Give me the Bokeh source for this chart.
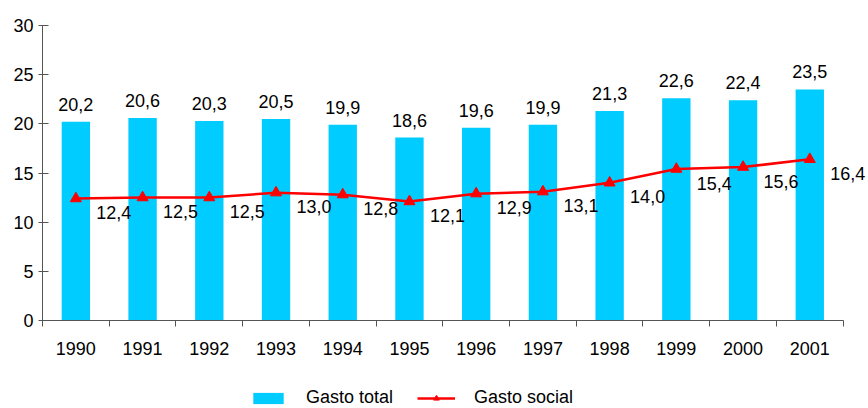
from bokeh.plotting import figure
from bokeh.layouts import column
from bokeh.models import FixedTicker, Legend, LegendItem, ColumnDataSource
from bokeh.core.properties import value
from bokeh.embed import file_html
from bokeh.resources import INLINE

years = ["1990", "1991", "1992", "1993", "1994", "1995", "1996", "1997", "1998", "1999", "2000", "2001"]
gasto_total = [20.2, 20.6, 20.3, 20.5, 19.9, 18.6, 19.6, 19.9, 21.3, 22.6, 22.4, 23.5]
gasto_social = [12.4, 12.5, 12.5, 13.0, 12.8, 12.1, 12.9, 13.1, 14.0, 15.4, 15.6, 16.4]
y_ticks = [0, 5, 10, 15, 20, 25, 30]

FONT = "Liberation Sans"
FS = "18px"
AXIS_COLOR = "#555555"
BAR_COLOR = "#00CCFF"
LINE_COLOR = "#FF0000"
n = len(years)
centers = [i + 0.5 for i in range(n)]
bounds = list(range(n + 1))

def fmt(v):
    return f"{v:.1f}".replace(".", ",")

src = ColumnDataSource(dict(
    x=centers, total=gasto_total, social=gasto_social,
    total_lbl=[fmt(v) for v in gasto_total],
    social_lbl=[fmt(v) for v in gasto_social],
))

p = figure(width=868, height=362, x_range=(0, 12.38), y_range=(0, 30),
           output_backend="svg", toolbar_location=None,
           min_border_left=42, min_border_right=0, min_border_top=25, min_border_bottom=42)
p.outline_line_color = None
p.xgrid.visible = False
p.ygrid.visible = False

bars = p.vbar(x="x", top="total", width=0.425, source=src, fill_color=BAR_COLOR, line_color=None)
line = p.line(x="x", y="social", source=src, line_color=LINE_COLOR, line_width=2.5)
pts = p.scatter(x="x", y="social", source=src, marker="triangle", size=11,
                fill_color=LINE_COLOR, line_color=LINE_COLOR)

p.text(x="x", y="total", text="total_lbl", source=src, text_align="center",
       text_baseline="bottom", y_offset=-11, text_font=value(FONT),
       text_font_size=FS, text_color="black")
p.text(x="x", y="social", text="social_lbl", source=src, text_align="center",
       text_baseline="middle", x_offset=38, y_offset=14, text_font=value(FONT),
       text_font_size=FS, text_color="black")

# y axis
p.yaxis.ticker = FixedTicker(ticks=y_ticks)
p.yaxis.major_tick_out = 4
p.yaxis.major_tick_in = 6
p.yaxis.minor_tick_line_color = None
p.yaxis.major_label_standoff = 5
for ax in (p.xaxis[0], p.yaxis[0]):
    ax.axis_line_color = AXIS_COLOR
    ax.major_tick_line_color = AXIS_COLOR
    ax.major_label_text_font = FONT
    ax.major_label_text_font_size = FS
    ax.major_label_text_color = "black"

# x axis: labels at centers, tick marks at category boundaries
p.xaxis.bounds = (0, n)
p.xaxis.ticker = FixedTicker(ticks=centers, minor_ticks=bounds)
p.xaxis.major_label_overrides = {c: y for c, y in zip(centers, years)}
p.xaxis.major_tick_line_color = None
p.xaxis.major_tick_out = 0
p.xaxis.major_tick_in = 0
p.xaxis.minor_tick_line_color = AXIS_COLOR
p.xaxis.minor_tick_out = 6
p.xaxis.minor_tick_in = 0
p.xaxis.major_label_standoff = 15

# legend strip below the chart (same series, drawn outside this strip's visible range)
pl = figure(width=868, height=46, x_range=(-100, -99), y_range=(-100, -99),
            x_axis_type=None, y_axis_type=None, output_backend="svg",
            toolbar_location=None, min_border=0)
pl.outline_line_color = None
pl.xgrid.visible = False
pl.ygrid.visible = False
lb = pl.vbar(x="x", top="total", width=0.425, source=src, fill_color=BAR_COLOR, line_color=None)
ll = pl.line(x="x", y="social", source=src, line_color=LINE_COLOR, line_width=2.5)
lp = pl.scatter(x="x", y="social", source=src, marker="triangle", size=9,
                fill_color=LINE_COLOR, line_color=LINE_COLOR)

legend = Legend(items=[LegendItem(label="Gasto total", renderers=[lb]),
                       LegendItem(label="Gasto social", renderers=[ll, lp])],
                orientation="horizontal", location=(207, 0),
                border_line_color=None, background_fill_alpha=0,
                glyph_width=38, glyph_height=14, label_standoff=19, spacing=24,
                label_text_font=FONT, label_text_font_size=FS, label_text_color="black",
                padding=0, margin=0)
pl.add_layout(legend, "center")

layout = column(p, pl, spacing=0)
open("out.html", "w").write(file_html(layout, INLINE))
